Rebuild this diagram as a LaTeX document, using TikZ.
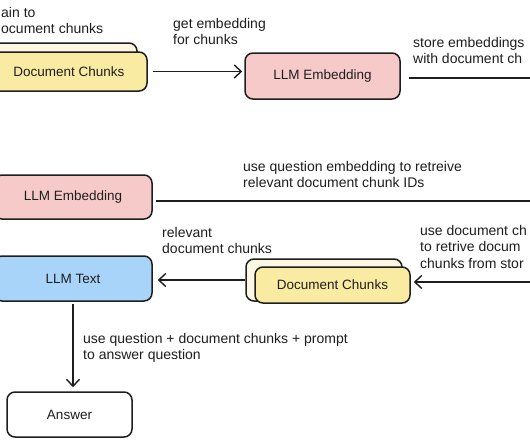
\documentclass[tikz,border=0pt]{standalone}
\usepackage{fontspec}
\setmainfont{Liberation Sans}
\usetikzlibrary{arrows.meta}
\definecolor{ink}{HTML}{1E1E1E}
\definecolor{pinkfill}{HTML}{F7CACA}
\definecolor{yellowfill}{HTML}{FAEBA2}
\definecolor{creamfill}{HTML}{FCF7E2}
\definecolor{bluefill}{HTML}{A8D4FA}
\begin{document}
\begin{tikzpicture}[x=1pt,y=-1pt,
  box/.style={draw=ink, line width=1.5pt, rounded corners=8pt, inner sep=0pt, font=\fontsize{13.5}{16}\selectfont, text=ink},
  lbl/.style={anchor=north west, align=left, inner sep=0pt, font=\fontsize{14}{16.5}\selectfont, text=ink},
  conn/.style={draw=ink, line width=1.4pt},
  arr/.style={conn, -{Straight Barb[length=7pt,width=13pt,line width=1.4pt]}}
]
\useasboundingbox (0,0) rectangle (530,442);
\clip (0,0) rectangle (530,442);
\fill[white] (0,0) rectangle (530,442);

% boxes
\node[box, fill=creamfill, minimum width=156pt, minimum height=38pt] (dcAback) at (59,62) {};
\node[box, fill=yellowfill, minimum width=156pt, minimum height=39pt] (dcA) at (69,71.5) {Document Chunks};
\node[box, fill=pinkfill, minimum width=155pt, minimum height=46pt] (embA) at (322.5,76) {LLM Embedding};
\node[box, fill=pinkfill, minimum width=158pt, minimum height=44pt] (embB) at (73,197) {LLM Embedding};
\node[box, fill=bluefill, minimum width=158pt, minimum height=45pt] (txt) at (73,278.5) {LLM Text};
\node[box, fill=creamfill, minimum width=156pt, minimum height=42pt] (dcBback) at (324,280) {};
\node[box, fill=yellowfill, minimum width=155pt, minimum height=36pt] (dcB) at (332.5,285) {Document Chunks};
\node[box, fill=white, minimum width=125pt, minimum height=45pt] (ans) at (69.5,414.5) {Answer};

% free ends
\coordinate (storeEnd) at (530,78);
\coordinate (idsEnd) at (530,201);
\coordinate (fetchStart) at (530,282);

% connectors
\draw[arr] ([xshift=5pt]dcA.east) -- ([xshift=-2pt]dcA.east -| embA.west);
\draw[conn] ([xshift=8pt]embA.east |- storeEnd) -- (storeEnd);
\draw[conn] ([xshift=3pt]embB.east |- idsEnd) -- (idsEnd);
\draw[arr] (fetchStart) -- ([xshift=3pt]dcB.east |- fetchStart);
\draw[arr] (dcBback.west) -- ([xshift=5pt]txt.east |- dcBback.west);
\draw[arr] ([yshift=-2pt]txt.south) -- ([yshift=4pt]txt.south |- ans.north);

% labels
\node[lbl] (l1) at (1,7) {ain to\\ocument chunks};
\node[lbl] (l2) at (173,18) {get embedding\\for chunks};
\node[lbl] (l3) at (413,37) {store embeddings\\with document ch};
\node[lbl] (l4) at (243,161) {use question embedding to retreive\\relevant document chunk IDs};
\node[lbl] (l5) at (162,227) {relevant\\document chunks};
\node[lbl] (l6) at (420,225) {use document ch\\to retrive docum\\chunks from stor};
\node[lbl] (l7) at (83,333) {use question + document chunks + prompt\\to answer question};
\end{tikzpicture}
\end{document}
